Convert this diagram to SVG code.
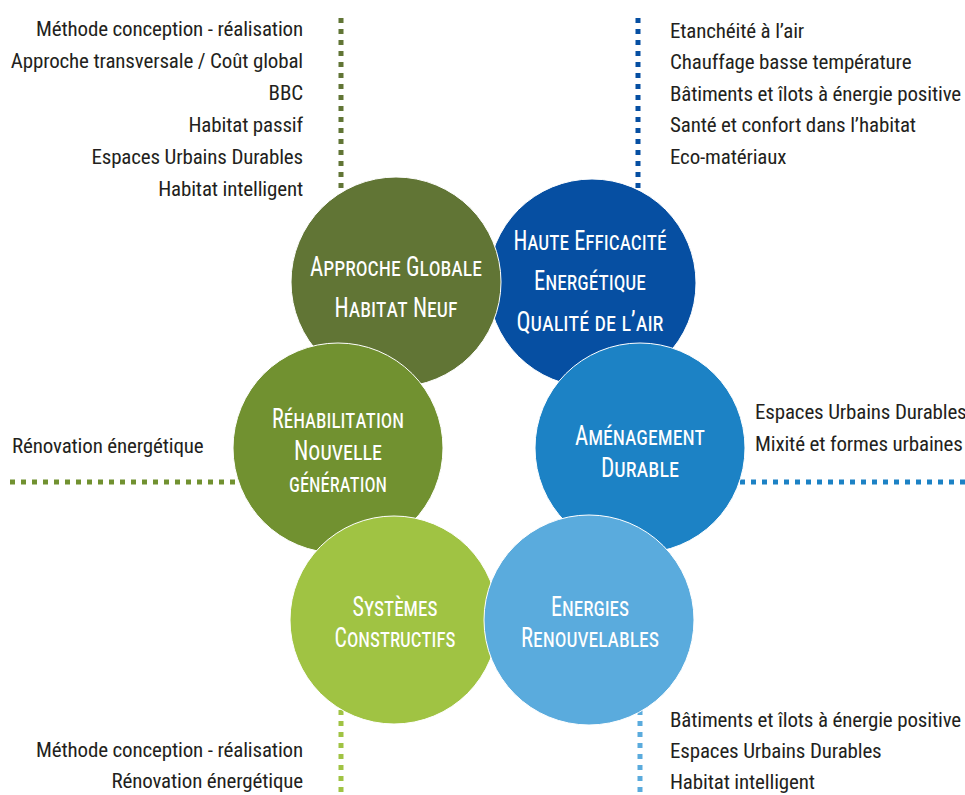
<svg xmlns="http://www.w3.org/2000/svg" width="965" height="795" viewBox="0 0 965 795">
<style>
.bg{fill:#ffffff}
.dot{fill:none;stroke-width:5;stroke-dasharray:5 6}
.circ{stroke:#ffffff;stroke-width:1}
.lbl{font-family:"Liberation Sans Narrow","Roboto Condensed","DejaVu Sans Condensed","Liberation Sans",sans-serif;font-stretch:condensed;font-size:21px;letter-spacing:-0.15px;fill:#231f20}
.r{text-anchor:end}
.t{font-family:"Liberation Sans Narrow","Roboto Condensed","DejaVu Sans Condensed","Liberation Sans",sans-serif;font-stretch:condensed;font-size:27px;fill:#ffffff;text-anchor:middle;font-variant:small-caps}
</style>
<rect class="bg" x="0" y="0" width="965" height="795"/>
<g id="connectors">
<line class="dot" x1="341" y1="18" x2="341" y2="200" stroke="#617535"/>
<line class="dot" x1="638" y1="18" x2="638" y2="200" stroke="#064fa2"/>
<line class="dot" x1="10" y1="482" x2="240" y2="482" stroke="#719130"/>
<line class="dot" x1="740" y1="482" x2="965" y2="482" stroke="#1c82c5"/>
<line class="dot" x1="341" y1="710" x2="341" y2="795" stroke="#a0c343"/>
<line class="dot" x1="640" y1="710" x2="640" y2="795" stroke="#5aabdd"/>
</g>
<g id="node-haute-efficacite">
<circle class="circ" cx="592" cy="283" r="104" fill="#064fa2"/>
<text class="t" x="590" y="250" textLength="153" lengthAdjust="spacingAndGlyphs">Haute Efficacité</text>
<text class="t" x="590" y="290" textLength="112" lengthAdjust="spacingAndGlyphs">Energétique</text>
<text class="t" x="590" y="331" textLength="147" lengthAdjust="spacingAndGlyphs">Qualité de l’air</text>
</g>
<g id="node-approche-globale">
<circle class="circ" cx="396" cy="282" r="105" fill="#617535"/>
<text class="t" x="396" y="276" textLength="172" lengthAdjust="spacingAndGlyphs">Approche Globale</text>
<text class="t" x="396" y="317" textLength="123" lengthAdjust="spacingAndGlyphs">Habitat Neuf</text>
</g>
<g id="node-rehabilitation">
<circle class="circ" cx="338" cy="448" r="105" fill="#719130"/>
<text class="t" x="338" y="428" textLength="132" lengthAdjust="spacingAndGlyphs">Réhabilitation</text>
<text class="t" x="338" y="460" textLength="88" lengthAdjust="spacingAndGlyphs">Nouvelle</text>
<text class="t" x="338" y="492" textLength="98" lengthAdjust="spacingAndGlyphs">génération</text>
</g>
<g id="node-amenagement">
<circle class="circ" cx="640" cy="448" r="105" fill="#1c82c5"/>
<text class="t" x="640" y="445" textLength="130" lengthAdjust="spacingAndGlyphs">Aménagement</text>
<text class="t" x="640" y="477" textLength="78" lengthAdjust="spacingAndGlyphs">Durable</text>
</g>
<g id="node-systemes">
<circle class="circ" cx="394" cy="620" r="104" fill="#a0c343"/>
<text class="t" x="395" y="616" textLength="85" lengthAdjust="spacingAndGlyphs">Systèmes</text>
<text class="t" x="395" y="647" textLength="121" lengthAdjust="spacingAndGlyphs">Constructifs</text>
</g>
<g id="node-energies">
<circle class="circ" cx="589" cy="620" r="105" fill="#5aabdd"/>
<text class="t" x="590" y="616" textLength="78" lengthAdjust="spacingAndGlyphs">Energies</text>
<text class="t" x="590" y="647" textLength="138" lengthAdjust="spacingAndGlyphs">Renouvelables</text>
</g>
<g id="labels-top-left">
<text class="lbl r" x="303" y="36">Méthode conception - réalisation</text>
<text class="lbl r" x="303" y="68">Approche transversale / Coût global</text>
<text class="lbl r" x="303" y="100">BBC</text>
<text class="lbl r" x="303" y="132">Habitat passif</text>
<text class="lbl r" x="303" y="164">Espaces Urbains Durables</text>
<text class="lbl r" x="303" y="196">Habitat intelligent</text>
</g>
<g id="labels-top-right">
<text class="lbl" x="670" y="38">Etanchéité à l’air</text>
<text class="lbl" x="670" y="69">Chauffage basse température</text>
<text class="lbl" x="670" y="101">Bâtiments et îlots à énergie positive</text>
<text class="lbl" x="670" y="132">Santé et confort dans l’habitat</text>
<text class="lbl" x="670" y="164">Eco-matériaux</text>
</g>
<g id="labels-left">
<text class="lbl" x="12" y="453">Rénovation énergétique</text>
</g>
<g id="labels-right">
<text class="lbl" x="755" y="419">Espaces Urbains Durables</text>
<text class="lbl" x="755" y="451">Mixité et formes urbaines</text>
</g>
<g id="labels-bottom-left">
<text class="lbl r" x="303" y="757">Méthode conception - réalisation</text>
<text class="lbl r" x="303" y="788">Rénovation énergétique</text>
</g>
<g id="labels-bottom-right">
<text class="lbl" x="670" y="727">Bâtiments et îlots à énergie positive</text>
<text class="lbl" x="670" y="758">Espaces Urbains Durables</text>
<text class="lbl" x="670" y="789">Habitat intelligent</text>
</g>
</svg>
